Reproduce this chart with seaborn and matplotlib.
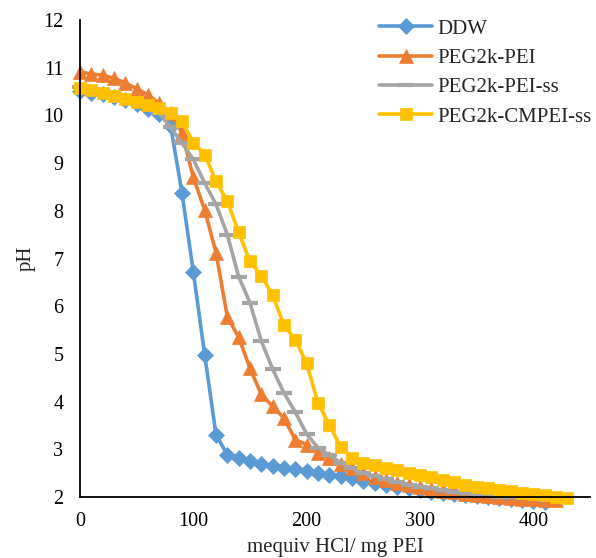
import matplotlib
matplotlib.use("Agg")
import matplotlib.pyplot as plt
import seaborn as sns
import pandas as pd

# ---- data ----
ddw_x = list(range(0, 420, 10))
ddw_ph = [10.52, 10.48, 10.45, 10.39, 10.32, 10.24, 10.13, 10.03, 9.78, 8.37,
          6.72, 4.98, 3.31, 2.88, 2.82, 2.76, 2.70, 2.65, 2.61, 2.58,
          2.54, 2.50, 2.46, 2.43, 2.39, 2.33, 2.29, 2.25, 2.22, 2.18,
          2.14, 2.10, 2.08, 2.06, 2.04, 2.02, 2.00, 1.98, 1.96, 1.94,
          1.92, 1.90]

pei_x = list(range(0, 430, 10))
pei_ph = [10.91, 10.87, 10.84, 10.78, 10.68, 10.56, 10.43, 10.25, 10.05, 9.63,
          8.70, 8.02, 7.12, 5.78, 5.35, 4.70, 4.15, 3.90, 3.65, 3.20,
          3.10, 2.93, 2.82, 2.70, 2.60, 2.50, 2.42, 2.36, 2.30, 2.25,
          2.20, 2.17, 2.13, 2.10, 2.07, 2.04, 2.02, 2.00, 1.98, 1.96,
          1.95, 1.94, 1.93]

peiss_x = list(range(0, 430, 10))
peiss_ph = [10.60, 10.55, 10.50, 10.44, 10.37, 10.30, 10.22, 10.05, 9.75, 9.42,
            9.08, 8.58, 8.14, 7.50, 6.62, 6.07, 5.27, 4.68, 4.18, 3.78,
            3.32, 3.03, 2.88, 2.72, 2.60, 2.50, 2.44, 2.37, 2.31, 2.26,
            2.22, 2.18, 2.14, 2.11, 2.08, 2.05, 2.03, 2.01, 2.00, 1.98,
            1.97, 1.96, 1.95]

cmpei_x = list(range(0, 440, 10))
cmpei_ph = [10.57, 10.53, 10.47, 10.41, 10.35, 10.28, 10.22, 10.16, 10.05, 9.88,
            9.43, 9.18, 8.62, 8.20, 7.55, 6.94, 6.64, 6.23, 5.60, 5.30,
            4.80, 3.97, 3.51, 3.05, 2.82, 2.71, 2.67, 2.61, 2.57, 2.50,
            2.46, 2.42, 2.36, 2.31, 2.25, 2.21, 2.19, 2.15, 2.13, 2.08,
            2.06, 2.04, 2.00, 1.98]

labels = ["DDW", "PEG2k-PEI", "PEG2k-PEI-ss", "PEG2k-CMPEI-ss"]
colors = ["#5B9BD5", "#ED7D31", "#A5A5A5", "#FFC000"]

x_ticks = [0, 100, 200, 300, 400]
y_ticks = [2, 3, 4, 5, 6, 7, 8, 9, 10, 11, 12]

# ---- style ----
sns.set_style("white")
plt.rcParams["font.family"] = ["Liberation Serif", "DejaVu Serif"]

fig = plt.figure(figsize=(5.96, 5.58), dpi=100)
ax = fig.add_axes([80 / 596, 1 - 497 / 558, 510 / 596, 477 / 558])

series = [(ddw_x, ddw_ph), (pei_x, pei_ph), (peiss_x, peiss_ph), (cmpei_x, cmpei_ph)]
markers = ["D", "^", "_", "s"]
msizes = [8.5, 9.5, 11, 9]
mews = [0.5, 0.5, 3, 0.5]

for (xs, ys), lab, col, mk, ms, mew in zip(series, labels, colors, markers, msizes, mews):
    df = pd.DataFrame({"x": xs, "pH": ys})
    sns.lineplot(data=df, x="x", y="pH", ax=ax, color=col, marker=mk,
                 markersize=ms, markeredgecolor=col, markerfacecolor=col,
                 markeredgewidth=mew, linewidth=2.6, label=lab, clip_on=False,
                 estimator=None, sort=False)

ax.set_xlim(0, 450)
ax.set_ylim(2, 12)
ax.set_xticks(x_ticks)
ax.set_yticks(y_ticks)
ax.tick_params(axis="both", length=0, labelsize=14.5, colors="black")
ax.tick_params(axis="y", pad=12)
ax.tick_params(axis="x", pad=11)

for s in ["top", "right"]:
    ax.spines[s].set_visible(False)
for s in ["left", "bottom"]:
    ax.spines[s].set_color("black")
    ax.spines[s].set_linewidth(1.3)

ax.set_xlabel("mequiv HCl/ mg PEI", fontsize=15, labelpad=5)
ax.set_ylabel("pH", fontsize=15, labelpad=5)
ax.grid(False)

leg = ax.legend(loc="upper left", bbox_to_anchor=(379 / 596, 1 - 19 / 558),
                bbox_transform=fig.transFigure, frameon=False, fontsize=15,
                handlelength=2.55, handletextpad=0.25, labelspacing=0.47,
                borderpad=0, borderaxespad=0)

fig.savefig("out.png", dpi=100)
